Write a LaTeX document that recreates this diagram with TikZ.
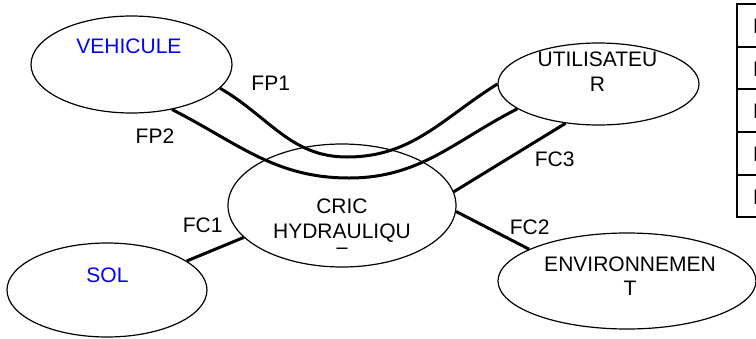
\documentclass[tikz,border=0pt]{standalone}
\usepackage{fontspec}
\setmainfont{Liberation Sans}
\usetikzlibrary{shapes.geometric}
\definecolor{namblue}{RGB}{0,0,255}
\begin{document}
\begin{tikzpicture}[x=1pt,y=-1pt,
  actor/.style={draw, ellipse, line width=1.2pt, inner sep=0pt},
  txt/.style={font=\fontsize{21}{25}\selectfont, anchor=base, inner sep=0pt},
  bluetxt/.style={txt, text=namblue},
  link/.style={line width=3pt},
  grid/.style={line width=1.8pt}]
\useasboundingbox (0,0) rectangle (756,338);
\clip (0,0) rectangle (756,338);

% external elements and the product
\node[actor, minimum width=201pt, minimum height=97pt] (veh) at (131.5,64.5) {};
\node[actor, minimum width=201pt, minimum height=82pt] (utl) at (598.5,84) {};
\node[actor, minimum width=228pt, minimum height=123pt] (cric) at (342,205.5) {};
\node[actor, minimum width=200pt, minimum height=94pt] (sol) at (107,290) {};
\node[actor, minimum width=258pt, minimum height=96pt] (env) at (627,281) {};

% names inside the ellipses
\node[bluetxt] (vehT) at (129,53.3) {VEHICULE};
\node[txt] (utlA) at (597.5,66) {UTILISATEU};
\node[txt] (utlB) at (597.5,91) {R};
\node[txt] (cricA) at (342,213.3) {CRIC};
\node[txt] (cricB) at (342,238.3) {HYDRAULIQU};
\begin{scope}
  \clip (300,240) rectangle (390,248);
  \node[txt] (cricC) at (342,262) {E};
\end{scope}
\node[bluetxt] (solT) at (107.5,282) {SOL};
\node[txt] (envA) at (630,271) {ENVIRONNEMEN};
\node[txt] (envB) at (630,295.7) {T};

% functions
\coordinate (fp1low) at (347,157);
\coordinate (fp2low) at (349,178);
\draw[link] (veh.-15) to[out=-30,in=180] (fp1low) to[out=0,in=-148] (utl.180);
\draw[link] (veh.-48) to[out=-27,in=180] (fp2low) to[out=0,in=-153] (utl.-163);
\draw[link] (cric.7) -- (utl.-130);
\draw[link] (cric.-3) -- (env.162);
\draw[link] (sol.20) -- (cric.-162);

% function labels
\node[txt] (fp1) at (270.7,90) {FP1};
\node[txt] (fp2) at (155,143.3) {FP2};
\node[txt] (fc1) at (202.7,232) {FC1};
\node[txt] (fc2) at (529.7,234) {FC2};
\node[txt] (fc3) at (554.7,166.7) {FC3};

% function table
\draw[grid] (737,4) rectangle (800,217);
\draw[grid] (737,47) -- (800,47);
\draw[grid] (737,89) -- (800,89);
\draw[grid] (737,132) -- (800,132);
\draw[grid] (737,175) -- (800,175);
\node[txt, anchor=base west] (t1) at (753,33) {FP1};
\node[txt, anchor=base west] (t2) at (753,76) {FP2};
\node[txt, anchor=base west] (t3) at (753,118) {FC1};
\node[txt, anchor=base west] (t4) at (753,161) {FC2};
\node[txt, anchor=base west] (t5) at (753,204) {FC3};
\end{tikzpicture}
\end{document}
